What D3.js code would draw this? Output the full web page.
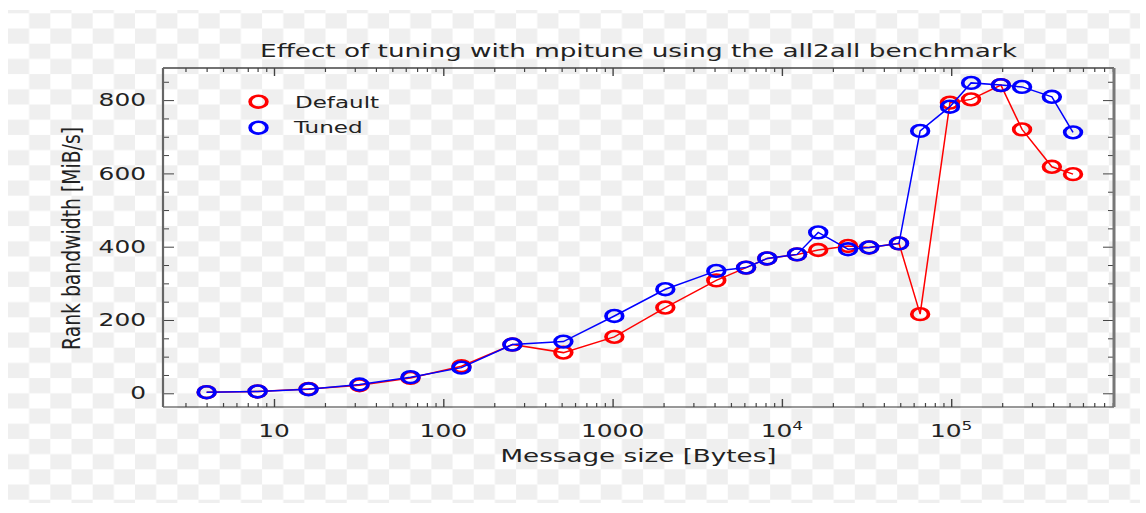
<!DOCTYPE html>
<html>
<head>
<meta charset="utf-8">
<script src="https://cdn.jsdelivr.net/npm/d3@7"></script>
<style>
  body { margin: 0; background: #fff; }
  svg { display: block; }
  text { font-family: "DejaVu Sans", "Liberation Sans", sans-serif; fill: #222; }
</style>
</head>
<body>
<svg id="chart" width="1146" height="513"></svg>
<script>
// Message sizes in bytes (x values)
const messageSizes = [4, 8, 16, 32, 64, 128, 256, 512, 1024, 2048, 4096, 6144, 8192,
  12288, 16384, 24576, 32768, 49152, 65536, 98304, 131072, 196608, 262144, 393216, 524288];

// Rank bandwidth in MiB/s for each configuration
const defaultBandwidth = [3, 5, 12, 22, 42, 74, 133, 111, 154, 234, 308, 343, 368,
  379, 391, 402, 398, 409, 216, 793, 802, 841, 720, 618, 598];
const tunedBandwidth = [3, 5, 11, 24, 44, 70, 133, 141, 211, 284, 334, 343, 368,
  379, 439, 393, 398, 409, 716, 782, 847, 841, 836, 809, 712];

const seriesNames = ["Default", "Tuned"];
const seriesColors = ["#ff0000", "#0000ff"];

const yTickValues = [0, 200, 400, 600, 800];
const xTickValues = [10, 100, 1000, 1e4, 1e5];
const xTickBases = ["10", "100", "1000", "10", "10"];
const xTickExponents = ["", "", "", "4", "5"];

const titleText = "Effect of tuning with mpitune using the all2all benchmark";
const xLabelText = "Message size [Bytes]";
const yLabelText = "Rank bandwidth [MiB/s]";

// ---- layout ----
const SX = 1.42;                       // horizontal aspect of the figure
const plot = { left: 163, right: 1114, top: 68, bottom: 407 };

const svg = d3.select("#chart");

// transparent-canvas checkerboard backdrop
const cw = 21.17, ch = 15.2;
const defs = svg.append("defs");
const pat = defs.append("pattern")
  .attr("id", "checker")
  .attr("patternUnits", "userSpaceOnUse")
  .attr("x", 8).attr("y", 13.3)
  .attr("width", 2 * cw).attr("height", 2 * ch);
pat.append("rect").attr("width", 2 * cw).attr("height", 2 * ch).attr("fill", "#ffffff");
pat.append("rect").attr("x", cw).attr("y", 0).attr("width", cw).attr("height", ch).attr("fill", "#efefef");
pat.append("rect").attr("x", 0).attr("y", ch).attr("width", cw).attr("height", ch).attr("fill", "#efefef");

svg.append("rect")
  .attr("x", 8).attr("y", 10)
  .attr("width", 1132).attr("height", 493)
  .attr("fill", "url(#checker)");

// ---- scales ----
const x = d3.scaleLog()
  .domain([2.21, 915300])
  .range([plot.left, plot.right]);

const y = d3.scaleLinear()
  .domain([-37.4, 887.6])
  .range([plot.bottom, plot.top]);

// minor tick positions
const xMinor = [];
for (let e = 0; e <= 5; e++) {
  for (let m = 2; m <= 9; m++) {
    const v = m * Math.pow(10, e);
    if (v > x.domain()[0] && v < x.domain()[1]) xMinor.push(v);
  }
}
const yMinor = d3.range(-50, 900, 50).filter(v => v > y.domain()[0] && v < y.domain()[1] && v % 200 !== 0);

const tickColor = "#444";

function styleAxis(g, width) {
  g.select(".domain").remove();
  g.selectAll(".tick line").attr("stroke", tickColor).attr("stroke-width", width);
  g.selectAll(".tick text").remove();
}

// bottom axis (inward ticks)
svg.append("g").attr("transform", `translate(0,${plot.bottom})`)
  .call(d3.axisBottom(x).tickValues(xTickValues).tickSizeInner(-8).tickSizeOuter(0))
  .call(g => styleAxis(g, 1.4));
svg.append("g").attr("transform", `translate(0,${plot.bottom})`)
  .call(d3.axisBottom(x).tickValues(xMinor).tickSizeInner(-4).tickSizeOuter(0))
  .call(g => styleAxis(g, 1.2));
// top axis (mirrored, inward)
svg.append("g").attr("transform", `translate(0,${plot.top})`)
  .call(d3.axisTop(x).tickValues(xTickValues).tickSizeInner(-8).tickSizeOuter(0))
  .call(g => styleAxis(g, 1.4));
svg.append("g").attr("transform", `translate(0,${plot.top})`)
  .call(d3.axisTop(x).tickValues(xMinor).tickSizeInner(-4).tickSizeOuter(0))
  .call(g => styleAxis(g, 1.2));
// left axis
svg.append("g").attr("transform", `translate(${plot.left},0)`)
  .call(d3.axisLeft(y).tickValues(yTickValues).tickSizeInner(-11).tickSizeOuter(0))
  .call(g => styleAxis(g, 1));
svg.append("g").attr("transform", `translate(${plot.left},0)`)
  .call(d3.axisLeft(y).tickValues(yMinor).tickSizeInner(-6).tickSizeOuter(0))
  .call(g => styleAxis(g, 1));
// right axis
svg.append("g").attr("transform", `translate(${plot.right},0)`)
  .call(d3.axisRight(y).tickValues(yTickValues).tickSizeInner(-11).tickSizeOuter(0))
  .call(g => styleAxis(g, 1));
svg.append("g").attr("transform", `translate(${plot.right},0)`)
  .call(d3.axisRight(y).tickValues(yMinor).tickSizeInner(-6).tickSizeOuter(0))
  .call(g => styleAxis(g, 1));

// ---- text helper: horizontally widened glyphs ----
function wideText(parent, px, py, str, size, anchor, len, rotate) {
  const t = parent.append("text")
    .attr("transform", `translate(${px},${py}) scale(${SX},1)` + (rotate ? ` rotate(${rotate})` : ""))
    .attr("font-size", size)
    .attr("text-anchor", anchor)
    .text(str);
  if (len) t.attr("textLength", len).attr("lengthAdjust", "spacingAndGlyphs");
  return t;
}

// y tick labels
const yLabels = svg.append("g");
yTickValues.forEach(v => {
  wideText(yLabels, 146, y(v) + 6.2, String(v), 17.5, "end");
});

// x tick labels (with superscript exponents)
const xLabels = svg.append("g");
xTickValues.forEach((v, i) => {
  const t = xLabels.append("text")
    .attr("transform", `translate(${x(v)},437) scale(${SX},1)`)
    .attr("font-size", 17.5)
    .attr("text-anchor", "middle");
  t.append("tspan").text(xTickBases[i]);
  if (xTickExponents[i]) {
    t.append("tspan").attr("font-size", 12).attr("dy", -7.5).text(xTickExponents[i]);
  }
});

// title and axis titles
wideText(svg, (plot.left + plot.right) / 2, 56.7, titleText, 18, "middle", 533);
wideText(svg, (plot.left + plot.right) / 2, 461.7, xLabelText, 17, "middle", 194.4);
wideText(svg, 80, (plot.top + plot.bottom) / 2 + 1, yLabelText, 17, "middle", 223, -90);

// ---- data series ----
const series = [defaultBandwidth, tunedBandwidth];
const line = d3.line()
  .x(d => x(d[0]))
  .y(d => y(d[1]));

const markerR = 5.9, markerStroke = 2.6;

series.forEach((vals, si) => {
  const pts = messageSizes.map((s, i) => [s, vals[i]]);
  const g = svg.append("g");
  g.append("path")
    .datum(pts)
    .attr("d", line)
    .attr("fill", "none")
    .attr("stroke", seriesColors[si])
    .attr("stroke-width", 1.5);
  g.selectAll("circle")
    .data(pts)
    .join("circle")
    .attr("transform", d => `translate(${x(d[0])},${y(d[1])}) scale(${SX},1)`)
    .attr("r", markerR)
    .attr("fill", "none")
    .attr("stroke", seriesColors[si])
    .attr("stroke-width", markerStroke);
});

// ---- spines ----
const spines = svg.append("g").attr("fill", "none");
spines.append("line").attr("x1", plot.left).attr("x2", plot.right).attr("y1", plot.top).attr("y2", plot.top)
  .attr("stroke", "#444").attr("stroke-width", 1.4);
spines.append("line").attr("x1", plot.left).attr("x2", plot.right).attr("y1", plot.bottom).attr("y2", plot.bottom)
  .attr("stroke", "#333").attr("stroke-width", 1.2);
spines.append("line").attr("x1", plot.left).attr("x2", plot.left).attr("y1", plot.top).attr("y2", plot.bottom)
  .attr("stroke", "#666").attr("stroke-width", 2.2);
spines.append("line").attr("x1", plot.right).attr("x2", plot.right).attr("y1", plot.top).attr("y2", plot.bottom)
  .attr("stroke", "#777").attr("stroke-width", 3);

// ---- legend ----
const legendRows = [{ cy: 101.7, ty: 108.3, tx: 295, len: 59.2 }, { cy: 127.7, ty: 132.7, tx: 294, len: 48.4 }];
const legend = svg.append("g");
seriesNames.forEach((name, i) => {
  const r = legendRows[i];
  legend.append("circle")
    .attr("transform", `translate(258.5,${r.cy}) scale(${SX},1)`)
    .attr("r", markerR)
    .attr("fill", "none")
    .attr("stroke", seriesColors[i])
    .attr("stroke-width", markerStroke);
  wideText(legend, r.tx, r.ty, name, 16.5, "start", r.len);
});
</script>
</body>
</html>
